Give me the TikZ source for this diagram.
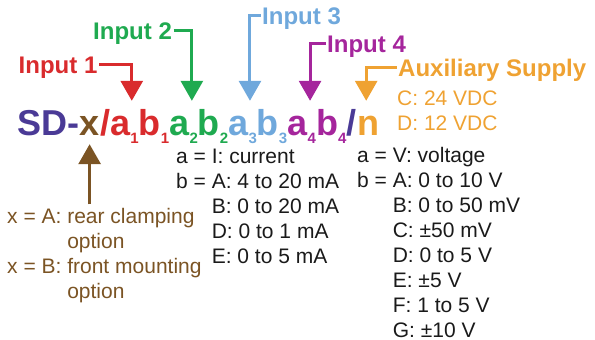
\documentclass[tikz,border=0pt]{standalone}
\usepackage{fontspec}
\setmainfont{Liberation Sans}
\usetikzlibrary{arrows.meta}

\definecolor{sdindigo}{HTML}{4A3A96}
\definecolor{sdbrown}{HTML}{7B5424}
\definecolor{sdred}{HTML}{D92B2D}
\definecolor{sdgreen}{HTML}{1FAA50}
\definecolor{sdblue}{HTML}{6FA8DC}
\definecolor{sdpurple}{HTML}{A5259C}
\definecolor{sdorange}{HTML}{EFA232}
\definecolor{sdblack}{HTML}{1A1A1A}

\newcommand{\subdig}[1]{\raisebox{-8pt}{\fontsize{15}{15}\selectfont #1}}

\tikzset{
  code/.style={font=\fontsize{36}{36}\selectfont\bfseries, anchor=base west,
    inner xsep=0pt, inner ysep=9pt, text height=25pt, text depth=0pt},
  lbl/.style={font=\fontsize{24}{24}\selectfont\bfseries, anchor=base west,
    inner sep=1.5pt, text height=17pt, text depth=0pt},
  info/.style={font=\fontsize{21}{25}\selectfont, anchor=base west, inner sep=1pt},
  pointer/.style={line width=3pt, -{Triangle[width=22pt,length=20pt]}},
}

\begin{document}
\begin{tikzpicture}[x=1pt, y=-1pt]
    \useasboundingbox (0,0) rectangle (595,340);

    % the code itself
    \node[code, text=sdindigo] (sd) at (17,135) {SD-};
    \node[code, text=sdbrown] (xch) at (sd.base east) {x};
    \node[code, text=sdred] (sl1) at (xch.base east) {/};
    \node[code, text=sdred] (g1) at (sl1.base east) {a\subdig{1}b\subdig{1}};
    \node[code, text=sdgreen] (g2) at (g1.base east) {a\subdig{2}b\subdig{2}};
    \node[code, text=sdblue] (g3) at (g2.base east) {a\subdig{3}b\subdig{3}};
    \node[code, text=sdpurple] (g4) at (g3.base east) {a\subdig{4}b\subdig{4}};
    \node[code, text=sdindigo] (sl2) at (g4.base east) {/};
    \node[code, text=sdorange] (nn) at (sl2.base east) {n};

    % labels above
    \node[lbl, text=sdred] (in1) at (17,73) {Input 1};
    \node[lbl, text=sdgreen] (in2) at (91.5,39) {Input 2};
    \node[lbl, text=sdblue] (in3) at (260.5,24) {Input 3};
    \node[lbl, text=sdpurple] (in4) at (325.5,52) {Input 4};
    \node[lbl, text=sdorange] (aux) at (396.5,76) {Auxiliary Supply};

    \draw[pointer, sdred] (in1.east) -| ([xshift=-8pt]g1.north);
    \draw[pointer, sdgreen] (in2.east) -| ([xshift=-7pt]g2.north);
    \draw[pointer, sdblue] (in3.west) -| ([xshift=-8pt]g3.north);
    \draw[pointer, sdpurple] (in4.west) -| ([xshift=-7pt]g4.north);
    \draw[pointer, sdorange] (aux.west) -| ([xshift=-2pt]nn.north);

    \node[info, text=sdorange] (supply) at (396,105)
      {\begin{tabular}[t]{@{}l@{}}C: 24 VDC\\ D: 12 VDC\end{tabular}};

    %%%%
    \node[info, text=sdblack] (current) at (175,163)
      {\begin{tabular}[t]{@{}l@{\ }l@{}}
        a = & I: current\\
        b = & A: 4 to 20 mA\\
            & B: 0 to 20 mA\\
            & D: 0 to 1 mA\\
            & E: 0 to 5 mA
      \end{tabular}};
    \node[info, text=sdblack] (voltage) at (356,162)
      {\begin{tabular}[t]{@{}l@{\ }l@{}}
        a = & V: voltage\\
        b = & A: 0 to 10 V\\
            & B: 0 to 50 mV\\
            & C: ±50 mV\\
            & D: 0 to 5 V\\
            & E: ±5 V\\
            & F: 1 to 5 V\\
            & G: ±10 V
      \end{tabular}};

    \node[info, text=sdbrown] (xopt) at (6,223)
      {\begin{tabular}[t]{@{}l@{\ }l@{\ }l@{}}
        x = & A: & rear clamping\\
            &    & option\\
        x = & B: & front mounting\\
            &    & option
      \end{tabular}};
    \draw[pointer, sdbrown] (xopt.north -| xch.south) -- (xch.south);
  \end{tikzpicture}
\end{document}
